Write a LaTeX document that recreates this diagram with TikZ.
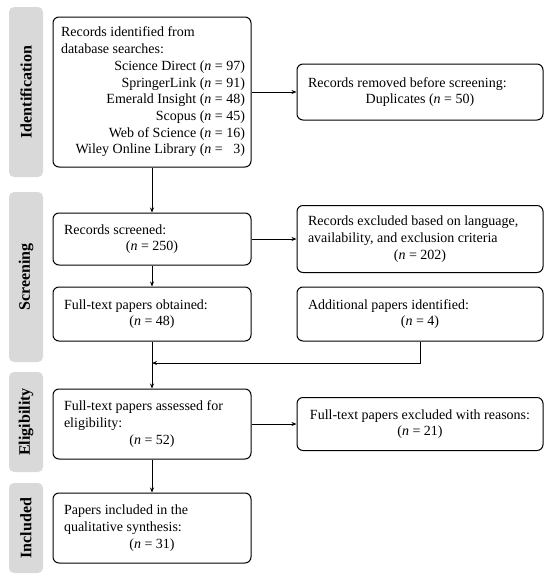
\documentclass[tikz,border=0pt]{standalone}
\usepackage{fontspec}
\setmainfont{Liberation Serif}
\usetikzlibrary{arrows.meta}
\definecolor{phasegray}{RGB}{217,217,217}
\newcommand\Ln[2]{\makebox[#1][l]{#2}}
\newcommand\Cn[2]{\makebox[#1][c]{#2}}
\newcommand\Rn[2]{\makebox[#1][r]{#2}}
\newcommand\nn{\textit{n}}
\begin{document}
\begin{tikzpicture}[x=1pt,y=-1pt,
  box/.style={draw, line width=1pt, rounded corners=6pt, inner ysep=0pt, inner xsep=11pt,
    align=left, font=\fontsize{14}{16.7}\selectfont},
  phase/.style={fill=phasegray, rounded corners=5pt, inner sep=0pt, rotate=90,
    minimum height=34pt, font=\fontsize{16}{18}\selectfont\bfseries},
  arr/.style={-{Stealth[length=5pt,width=4pt]}, line width=0.9pt},
]
\useasboundingbox (0,0) rectangle (550,581);

% phase bars
\node[phase, minimum width=170pt] (ph1) at (26,92) {Identification};
\node[phase, minimum width=170pt] (ph2) at (26,277) {Screening};
\node[phase, minimum width=100pt] (ph3) at (26,422) {Eligibility};
\node[phase, minimum width=90pt] (ph4) at (26,528) {Included};

% boxes
\node[box, inner xsep=6pt, minimum height=150pt] (id) at (152,92) {%
  \Ln{186pt}{\hspace*{2pt}Records identified from}\\
  \Ln{186pt}{\hspace*{2pt}database searches:}\\
  \Rn{186pt}{Science Direct (\nn{} = 97)}\\
  \Rn{186pt}{SpringerLink (\nn{} = 91)}\\
  \Rn{186pt}{Emerald Insight (\nn{} = 48)}\\
  \Rn{186pt}{Scopus (\nn{} = 45)}\\
  \Rn{186pt}{Web of Science (\nn{} = 16)}\\
  \Rn{186pt}{Wiley Online Library (\nn{} = \phantom{0}3)}};

\node[box, minimum height=56pt] (rem) at (420,92) {%
  \Ln{224pt}{Records removed before screening:}\\
  \Cn{224pt}{Duplicates (\nn{} = 50)}};

\node[box, minimum height=52pt] (scr) at (152,239) {%
  \Ln{176pt}{Records screened:}\\
  \Cn{176pt}{(\nn{} = 250)}};

\node[box, minimum height=67pt] (exc) at (420,239) {%
  \Ln{224pt}{Records excluded based on language,}\\
  \Ln{224pt}{availability, and exclusion criteria}\\
  \Cn{224pt}{(\nn{} = 202)}};

\node[box, minimum height=54pt] (ft) at (152,314) {%
  \Ln{176pt}{Full-text papers obtained:}\\
  \Cn{176pt}{(\nn{} = 48)}};

\node[box, minimum height=54pt] (add) at (420,314) {%
  \Ln{224pt}{Additional papers identified:}\\
  \Cn{224pt}{(\nn{} = 4)}};

\node[box, minimum height=70pt] (ass) at (152,424) {%
  \Ln{176pt}{Full-text papers assessed for}\\
  \Ln{176pt}{eligibility:}\\
  \Cn{176pt}{(\nn{} = 52)}};

\node[box, minimum height=53pt] (rea) at (420,424) {%
  \Cn{224pt}{Full-text papers excluded with reasons:}\\
  \Cn{224pt}{(\nn{} = 21)}};

\node[box, minimum height=70pt] (inc) at (152,528) {%
  \Ln{176pt}{Papers included in the}\\
  \Ln{176pt}{qualitative synthesis:}\\
  \Cn{176pt}{(\nn{} = 31)}};

% connectors
\coordinate (m) at (152,363);
\draw[arr] (id) -- (scr);
\draw[arr] (id) -- (rem);
\draw[arr] (scr) -- (exc);
\draw[arr] (scr) -- (ft);
\draw[arr] (ft) -- (ass);
\draw[arr] (add.south) |- (m);
\draw[arr] (ass) -- (rea);
\draw[arr] (ass) -- (inc);
\end{tikzpicture}
\end{document}
